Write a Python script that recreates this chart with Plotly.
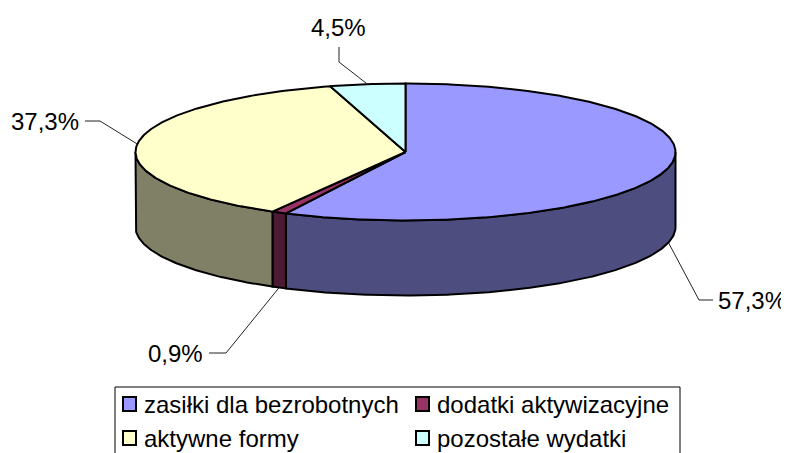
import math
import plotly.graph_objects as go

# data
categories = ["zasiłki dla bezrobotnych", "dodatki aktywizacyjne", "aktywne formy", "pozostałe wydatki"]
values = [57.3, 0.9, 37.3, 4.5]
top_colors = ["#9999FF", "#993366", "#FFFFCC", "#CCFFFF"]
side_colors = ["#4D4D80", "#4C1A33", "#808066", "#668080"]

# pie geometry in page pixels (page is 789x453, the page body has an 8px margin)
W, H = 789, 453
PAD = 8
CX, CY = 405.5, 152
RX, RY = 270, 68.5
DEPTH = 75
FONT = "Liberation Sans, Arial, sans-serif"
FS = 24


def pt(theta, dy=0):
    # theta in degrees, clockwise from 12 o'clock
    t = math.radians(theta)
    return CX + RX * math.sin(t), CY - RY * math.cos(t) + dy


def arc(t1, t2, dy=0):
    n = max(2, int(abs(t2 - t1) * 2) + 2)
    xs, ys = [], []
    for i in range(n + 1):
        x, y = pt(t1 + (t2 - t1) * i / n, dy)
        xs.append(x)
        ys.append(y)
    return xs, ys


total = sum(values)
bounds = [0]
for v in values:
    bounds.append(bounds[-1] + v / total * 360)

fig = go.Figure()

# sides (front half only)
for i in range(len(values)):
    lo, hi = max(bounds[i], 90), min(bounds[i + 1], 270)
    if lo >= hi:
        continue
    x1, y1 = arc(lo, hi)
    x2, y2 = arc(hi, lo, DEPTH)
    fig.add_trace(go.Scatter(x=x1 + x2 + [x1[0]], y=y1 + y2 + [y1[0]], mode="lines",
                             fill="toself", fillcolor=side_colors[i],
                             line=dict(color="black", width=2), hoverinfo="skip",
                             showlegend=False))

# tops
for i in range(len(values)):
    xa, ya = arc(bounds[i], bounds[i + 1])
    fig.add_trace(go.Scatter(x=[CX] + xa + [CX], y=[CY] + ya + [CY], mode="lines",
                             fill="toself", fillcolor=top_colors[i],
                             line=dict(color="black", width=2), hoverinfo="skip",
                             showlegend=False, name=categories[i]))

# data labels with leader lines
label_elbows = [[(699, 300), (713, 300)], [(226, 353), (209, 353)],
                [(100, 121), (85, 121)], [(339, 62), (339, 47)]]
label_pos = [(716, 300, "left"), (205, 353, "right"), (81, 121, "right"), (338, 27, "center")]

for i, v in enumerate(values):
    mid = (bounds[i] + bounds[i + 1]) / 2
    ax, ay = pt(mid, DEPTH if 90 < mid < 270 else 0)
    xs = [ax] + [p[0] for p in label_elbows[i]]
    ys = [ay] + [p[1] for p in label_elbows[i]]
    fig.add_trace(go.Scatter(x=xs, y=ys, mode="lines", line=dict(color="#222222", width=1),
                             hoverinfo="skip", showlegend=False))
    lx, ly, anc = label_pos[i]
    fig.add_annotation(x=lx, y=ly, text=f"{v:.1f}%".replace(".", ","), showarrow=False,
                       xanchor=anc, yanchor="middle", font=dict(size=FS, color="black", family=FONT))

# legend drawn by hand (Excel style box, cut by the bottom edge)
shapes = [dict(type="rect", x0=115, y0=387, x1=680, y1=480, line=dict(color="black", width=1),
               fillcolor="white", layer="below")]
col_x = [123, 416]
row_y = [404, 438]
for i, name in enumerate(categories):
    x0, yc = col_x[i % 2], row_y[i // 2]
    shapes.append(dict(type="rect", x0=x0, y0=yc - 7, x1=x0 + 13, y1=yc + 7,
                       fillcolor=top_colors[i], line=dict(color="black", width=2)))
    fig.add_annotation(x=x0 + 19, y=yc, text=name, showarrow=False, xanchor="left",
                       yanchor="middle", font=dict(size=FS, color="black", family=FONT))

fig.update_layout(width=W - PAD, height=H - PAD, margin=dict(l=0, r=0, t=0, b=0),
                  paper_bgcolor="white", plot_bgcolor="white", shapes=shapes,
                  xaxis=dict(range=[PAD, W], visible=False, fixedrange=True),
                  yaxis=dict(range=[H, PAD], visible=False, fixedrange=True),
                  showlegend=False)

fig.write_html("out.html")
